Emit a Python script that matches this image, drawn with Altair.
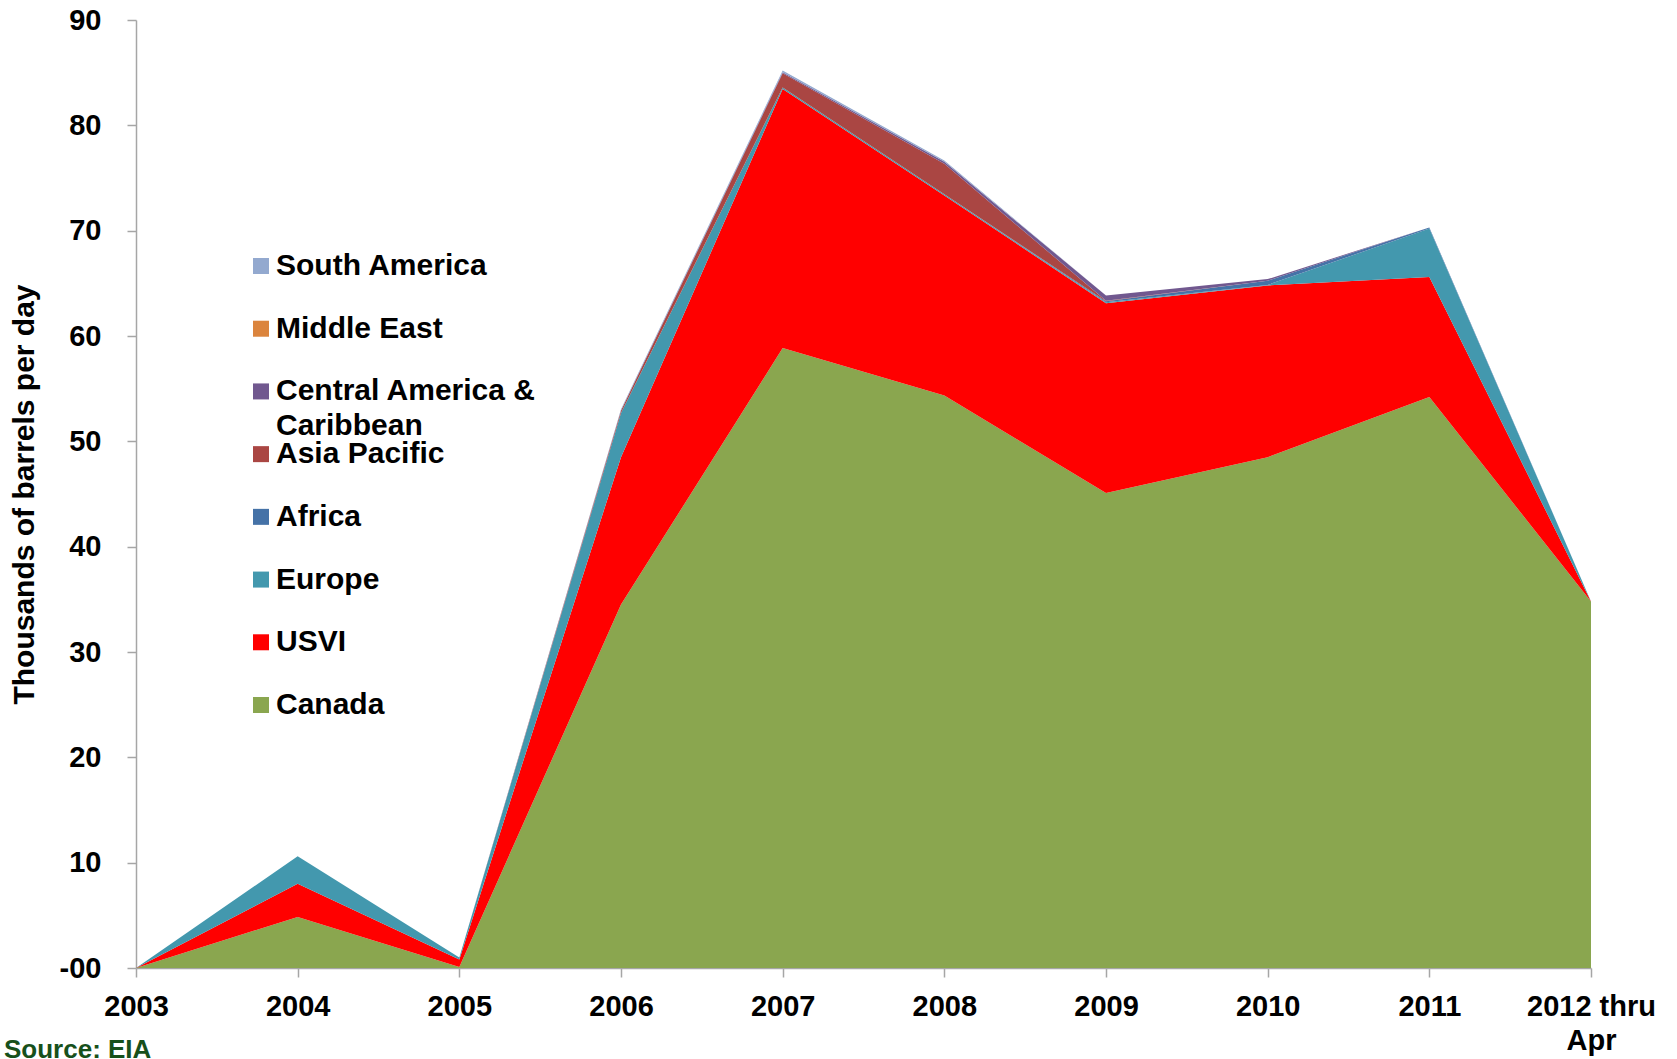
import altair as alt
import pandas as pd

# Crude oil imports by origin, thousands of barrels per day
years = ["2003", "2004", "2005", "2006", "2007", "2008", "2009", "2010", "2011", "2012 thru Apr"]

canada = [0, 4.85, 0.1, 34.5, 58.85, 54.35, 45.1, 48.5, 54.2, 34.8]
usvi = [0, 3.15, 0.7, 14.0, 24.6, 19.0, 18.0, 16.3, 11.4, 0.0]
europe = [0, 2.6, 0.2, 4.2, 0.15, 0.1, 0.1, 0.05, 4.6, 0.0]
africa = [0, 0, 0, 0, 0, 0, 0.1, 0.4, 0.1, 0]
asia_pacific = [0, 0, 0, 0.2, 1.35, 2.9, 0.05, 0, 0, 0]
central_america = [0, 0, 0, 0.05, 0.1, 0.2, 0.5, 0.15, 0, 0]
middle_east = [0, 0, 0, 0, 0, 0, 0, 0, 0, 0]
south_america = [0, 0, 0, 0.1, 0.15, 0.1, 0, 0, 0, 0]

# stacking order, bottom to top
series = [
    ("Canada", canada, "#8AA64F"),
    ("USVI", usvi, "#FF0000"),
    ("Europe", europe, "#4398AE"),
    ("Africa", africa, "#4572A7"),
    ("Asia Pacific", asia_pacific, "#AA4643"),
    ("Central America & Caribbean", central_america, "#71588F"),
    ("Middle East", middle_east, "#DB843D"),
    ("South America", south_america, "#93A9CF"),
]

# legend text, wrapped where it is too long for one line
legend_wrap = {"Central America & Caribbean": "Central America &\nCaribbean"}

source_note = "Source: EIA"

rows = []
for k, (name, vals, _) in enumerate(series):
    for yr, v in zip(years, vals):
        rows.append({"year": yr, "series": name, "value": v, "stack": k})
df = pd.DataFrame(rows)

legend_names = [s[0] for s in series][::-1]
legend_colors = [s[2] for s in series][::-1]
legend_df = pd.DataFrame({
    "series": legend_names,
    "row": list(range(len(legend_names))),
    "label": [legend_wrap.get(n, n) for n in legend_names],
})

FONT = "Liberation Sans"
color_scale = alt.Scale(domain=legend_names, range=legend_colors)

areas = alt.Chart(df).mark_area(interpolate="linear", opacity=1, strokeWidth=0).encode(
    x=alt.X(
        "year:N",
        sort=years,
        scale=alt.Scale(type="point", padding=0),
        axis=alt.Axis(
            title=None,
            labelAngle=0,
            labelPadding=15,
            labelLineHeight=34,
            labelExpr="datum.label == '2012 thru Apr' ? ['2012 thru', 'Apr'] : datum.label",
        ),
    ),
    y=alt.Y(
        "value:Q",
        stack="zero",
        scale=alt.Scale(domain=[0, 90], nice=False),
        axis=alt.Axis(
            values=list(range(0, 91, 10)),
            title="Thousands of barrels per day",
            titleX=-112,
            titleY=474,
            titleAngle=270,
            titleAlign="center",
            titleBaseline="middle",
            titleFontSize=30,
            labelPadding=26,
            labelExpr="datum.value == 0 ? '-00' : datum.label",
        ),
    ),
    color=alt.Color("series:N", scale=color_scale, legend=None),
    order=alt.Order("stack:Q", sort="ascending"),
)

# legend: one row per series, evenly spaced down the left of the plot
legend_y = alt.Y(
    "row:O",
    scale=alt.Scale(type="point", domain=list(range(len(legend_names))), range=[246, 685], padding=0),
    axis=None,
)
legend_squares = alt.Chart(legend_df).mark_square(size=256, opacity=1, strokeWidth=0).encode(
    x=alt.value(125),
    y=legend_y,
    color=alt.Color("series:N", scale=color_scale, legend=None),
)
legend_labels = alt.Chart(legend_df).mark_text(
    align="left", baseline="middle", lineBreak="\n", lineHeight=35,
    font=FONT, fontSize=30, fontWeight="bold", color="black",
).encode(x=alt.value(140), y=legend_y, text="label:N")

note = alt.Chart(pd.DataFrame({"t": [source_note]})).mark_text(
    align="left", baseline="middle", font=FONT, fontSize=26, fontWeight="bold", color="#17501B"
).encode(x=alt.value(-132), y=alt.value(1030), text="t:N")

chart = alt.layer(areas, legend_squares, legend_labels, note).resolve_scale(
    y="independent"
).properties(
    width=1455,
    height=948,
    autosize=alt.AutoSizeParams(type="none"),
    padding={"left": 136, "top": 20, "right": 86, "bottom": 91},
    background="white",
).configure_view(stroke=None).configure_axis(
    grid=False,
    labelFont=FONT,
    labelFontSize=29,
    labelFontWeight="bold",
    labelColor="black",
    titleFont=FONT,
    titleFontWeight="bold",
    titleColor="black",
    domainColor="#A6A6A6",
    domainWidth=1.5,
    tickColor="#A6A6A6",
    tickWidth=1.5,
    tickSize=9,
)

chart.save("out.html", embed_options={"renderer": "svg", "actions": False})
